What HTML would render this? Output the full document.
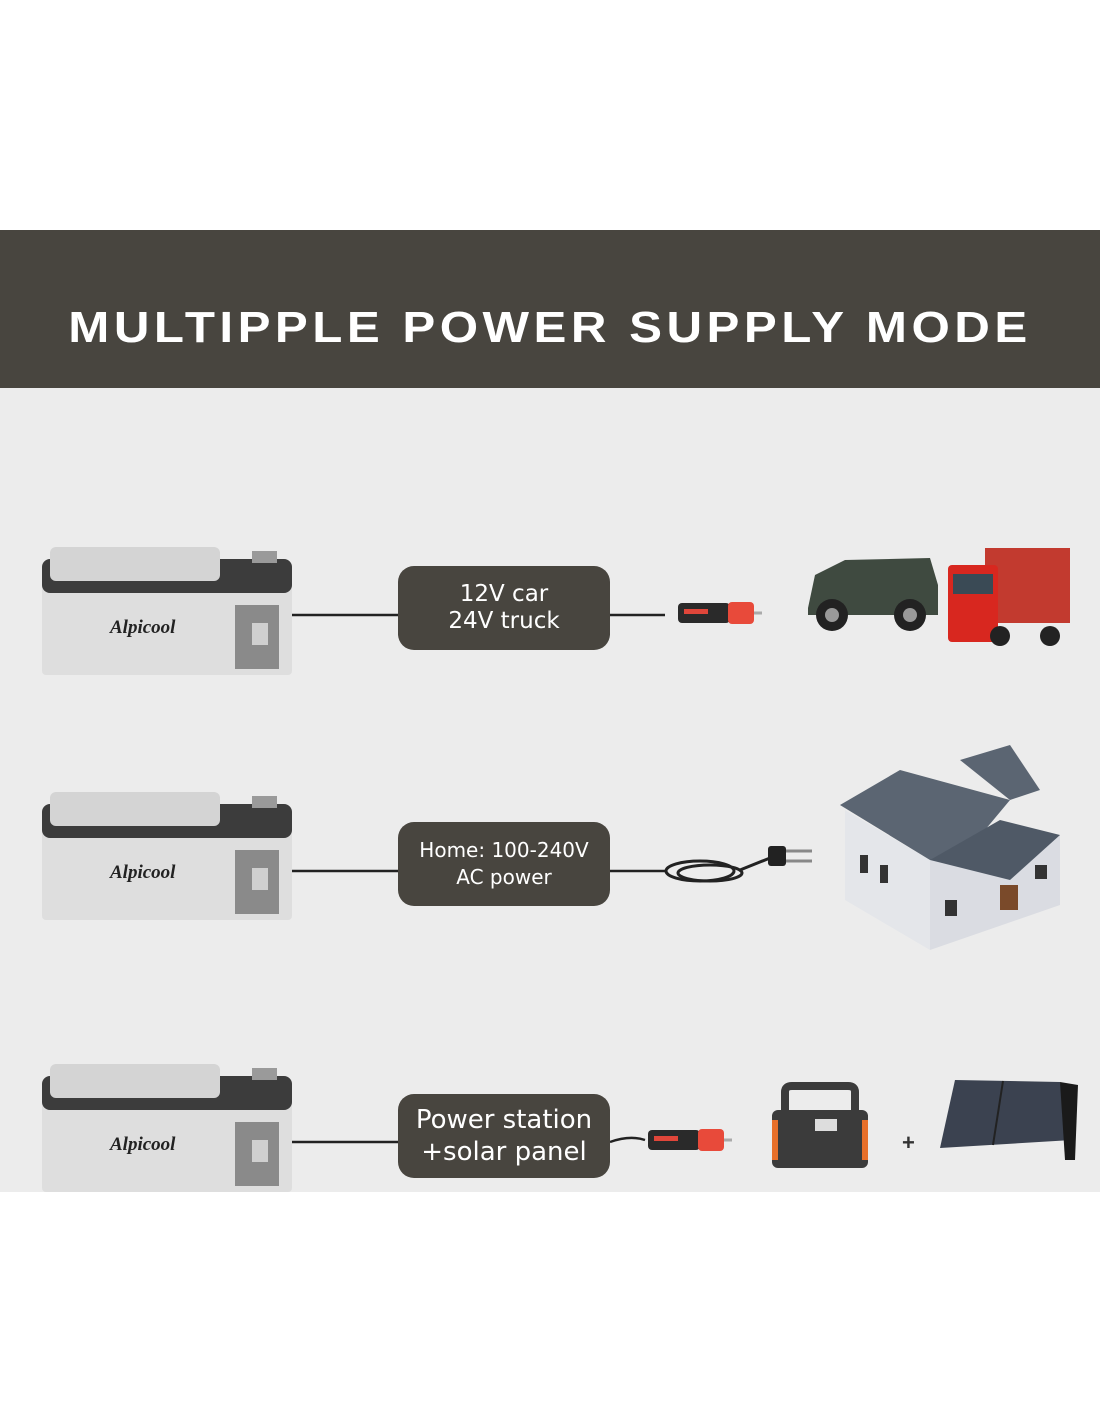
<!DOCTYPE html>
<html><head><meta charset="utf-8"><style>
html,body{margin:0;padding:0;width:1100px;height:1422px;background:#fff;overflow:hidden}
.band{position:absolute;left:0;top:230px;width:1100px;height:158px;background:#48453f}
.title{position:absolute;left:0;top:298px;width:1100px;text-align:center;color:#fff;font:bold 44px "Liberation Sans",sans-serif;letter-spacing:4px;line-height:60px;transform:scaleX(1.12)}
.bg{position:absolute;left:0;top:388px;width:1100px;height:804px;background:#ececec}
.pill{position:absolute;left:398px;width:212px;height:84px;background:#48453f;border-radius:16px;color:#fff;font-family:"DejaVu Sans","Liberation Sans",sans-serif;text-align:center;display:flex;flex-direction:column;justify-content:center;line-height:27px}
svg{position:absolute;left:0;top:0}
</style></head><body>
<div class="band"></div>
<div class="title">MULTIPPLE POWER SUPPLY MODE</div>
<div class="bg"></div>
<svg width="1100" height="1422">
<defs>
<g id="fr">
 <rect x="0" y="28" width="250" height="102" rx="4" fill="#dedede"/>
 <rect x="0" y="14" width="250" height="34" rx="8" fill="#3c3c3c"/>
 <rect x="8" y="2" width="170" height="34" rx="6" fill="#d4d4d4"/>
 <rect x="210" y="6" width="25" height="12" fill="#9a9a9a"/>
 <rect x="193" y="60" width="44" height="64" fill="#8a8a8a"/>
 <rect x="210" y="78" width="16" height="22" fill="#cfcfcf"/>
 <text x="68" y="88" font-family="Liberation Serif,serif" font-style="italic" font-weight="bold" font-size="19" fill="#222">Alpicool</text>
</g>
<g id="plug">
 <rect x="16" y="-10" width="52" height="20" rx="4" fill="#2a2a2a"/>
 <rect x="22" y="-4" width="24" height="5" fill="#e0463a"/>
 <rect x="66" y="-11" width="26" height="22" rx="4" fill="#e84a3a"/>
 <line x1="92" y1="0" x2="100" y2="0" stroke="#aaa" stroke-width="3"/>
</g>
</defs>
<use href="#fr" x="42" y="545"/>
<use href="#fr" x="42" y="790"/>
<use href="#fr" x="42" y="1062"/>
<g stroke="#222" stroke-width="2.5" fill="none">
<line x1="292" y1="615" x2="398" y2="615"/><path d="M610 615 H665"/>
<line x1="292" y1="871" x2="398" y2="871"/><path d="M610 871 H665"/>
<line x1="292" y1="1142" x2="398" y2="1142"/><path d="M610 1142 Q630 1135 645 1140"/>
</g>
<use href="#plug" x="662" y="613"/>
<use href="#plug" x="632" y="1140"/>
<g stroke="#222" stroke-width="3" fill="none">
<ellipse cx="700" cy="871" rx="34" ry="10"/><ellipse cx="710" cy="873" rx="32" ry="8"/>
<path d="M740 870 L770 858"/>
</g>
<rect x="768" y="846" width="18" height="20" rx="3" fill="#222"/>
<line x1="786" y1="851" x2="812" y2="851" stroke="#888" stroke-width="3"/>
<line x1="786" y1="861" x2="812" y2="861" stroke="#888" stroke-width="3"/>
<path d="M808 608 L815 575 L845 560 L930 558 L938 585 L938 615 L808 615Z" fill="#3f4a40"/>
<circle cx="832" cy="615" r="16" fill="#222"/><circle cx="832" cy="615" r="7" fill="#999"/>
<circle cx="910" cy="615" r="16" fill="#222"/><circle cx="910" cy="615" r="7" fill="#999"/>
<rect x="985" y="548" width="85" height="75" fill="#c23a2f"/>
<rect x="948" y="565" width="50" height="77" rx="4" fill="#d8271f"/>
<rect x="953" y="574" width="40" height="20" fill="#3a4a55"/>
<circle cx="1000" cy="636" r="10" fill="#222"/><circle cx="1050" cy="636" r="10" fill="#222"/>
<polygon points="845,810 930,860 930,950 845,900" fill="#e4e6ea"/>
<polygon points="930,860 1060,835 1060,905 930,950" fill="#dadce2"/>
<polygon points="840,805 900,770 1010,800 960,860 930,860" fill="#5b6572"/>
<polygon points="960,760 1010,745 1040,790 1010,800" fill="#5b6572"/>
<polygon points="930,860 1000,820 1060,835 1010,880" fill="#4f5966"/>
<rect x="1000" y="885" width="18" height="25" fill="#7a4a2a"/>
<g fill="#333"><rect x="860" y="855" width="8" height="18"/><rect x="880" y="865" width="8" height="18"/><rect x="945" y="900" width="12" height="16"/><rect x="1035" y="865" width="12" height="14"/></g>
<rect x="772" y="1110" width="96" height="58" rx="6" fill="#3b3b3b"/>
<path d="M785 1112 V1092 Q785 1086 792 1086 H848 Q855 1086 855 1092 V1112" stroke="#3b3b3b" stroke-width="8" fill="none"/>
<rect x="772" y="1120" width="6" height="40" fill="#e8702a"/><rect x="862" y="1120" width="6" height="40" fill="#e8702a"/>
<rect x="815" y="1119" width="22" height="12" fill="#ddd"/>
<text x="902" y="1150" font-family="Liberation Sans,sans-serif" font-weight="bold" font-size="22" fill="#333">+</text>
<polygon points="955,1080 1060,1082 1072,1140 940,1148" fill="#3b4250"/>
<polygon points="1060,1082 1078,1085 1075,1160 1065,1160" fill="#1a1a1a"/>
<line x1="1003" y1="1081" x2="993" y2="1145" stroke="#222" stroke-width="2"/>
</svg>
<div class="pill" style="top:566px;font-size:23px">12V car<br>24V truck</div>
<div class="pill" style="top:822px;font-size:20px">Home: 100-240V<br>AC power</div>
<div class="pill" style="top:1094px;font-size:26px;line-height:32px">Power station<br>+solar panel</div>
</body></html>
